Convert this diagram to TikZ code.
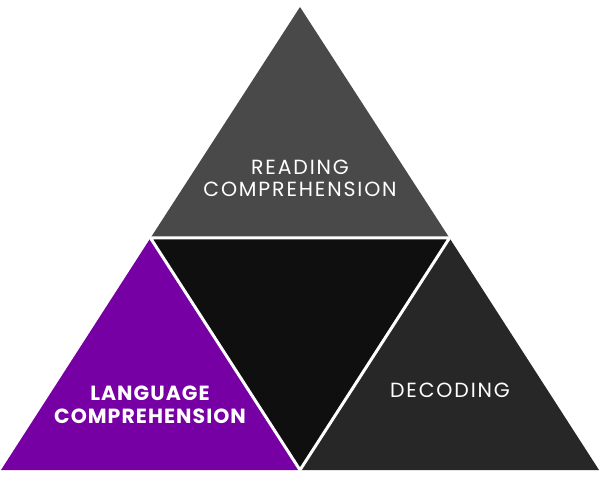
\documentclass[tikz,border=0pt]{standalone}
\usepackage{fontspec}
\setmainfont{Poppins}
\newfontfamily\widefont[LetterSpace=9]{Poppins}
\newfontfamily\widebold[LetterSpace=5]{Poppins Bold}
\definecolor{readgray}{HTML}{494949}
\definecolor{langpurple}{HTML}{7600A3}
\definecolor{midblack}{HTML}{0F0F0F}
\definecolor{decgray}{HTML}{272727}
\begin{document}
\begin{tikzpicture}[x=1pt, y=1pt, label/.style = {text=white, align=center, anchor=base, font=\widefont\fontsize{20.5}{22}\selectfont}]
    \useasboundingbox (0,0) rectangle (600,477);
    \coordinate (top) at (300,470);
    \coordinate (bl) at (1,7);
    \coordinate (br) at (599,7);
    \coordinate (ml) at (150.5,239);
    \coordinate (mr) at (449.5,239);
    \coordinate (mb) at (300,7);
    \fill[readgray] (top) -- (ml) -- (mr) -- cycle;
    \fill[langpurple] (ml) -- (bl) -- (mb) -- cycle;
    \fill[midblack] (ml) -- (mr) -- (mb) -- cycle;
    \fill[decgray] (mr) -- (mb) -- (br) -- cycle;
    \draw[white, line width=3pt, line join=miter] (ml) -- (mr) -- (mb) -- cycle;
    \node[label] (read) at (300,280) {READING\\COMPREHENSION};
    \node[label, font=\widebold\fontsize{20.5}{24}\selectfont] (lang) at (150,53) {LANGUAGE\\COMPREHENSION};
    \node[label] (dec) at (450,79) {DECODING};
\end{tikzpicture}
\end{document}
